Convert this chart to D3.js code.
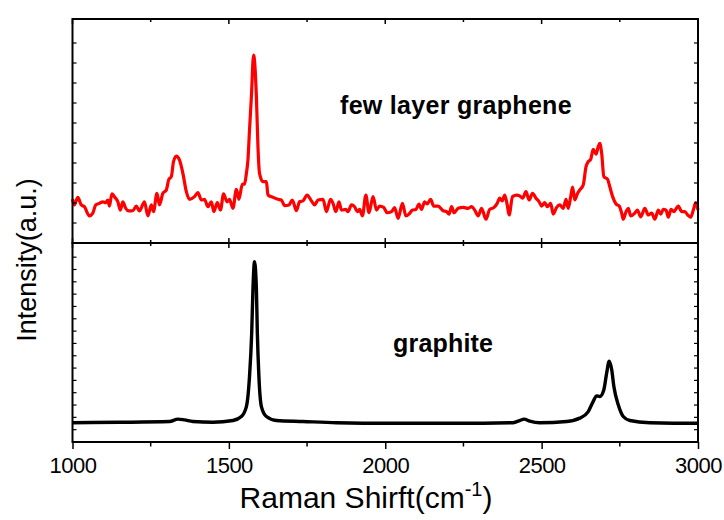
<!DOCTYPE html>
<html>
<head>
<meta charset="utf-8">
<script src="https://cdn.jsdelivr.net/npm/d3@7"></script>
<style>
  body { margin: 0; background: #fff; }
  text { font-family: "Liberation Sans", Arial, sans-serif; }
</style>
</head>
<body>
<script>

// Raman shift (cm-1) and intensity (a.u.)
var grapheneShift = [1000,1006,1017,1028,1038,1054,1065,1074,1086,1097,1106,1113,1118,1126,1134,1145,1153,1161,1170,1180,1193,1204,1214,1230,1241,1252,1259,1270,1278,1289,1300,1308,1316,1323,1332,1342,1353,1364,1374,1390,1401,1412,1422,1433,1444,1452,1463,1473,1483,1494,1502,1513,1524,1532,1543,1550,1556,1561,1566,1572,1579,1588,1593,1598,1609,1620,1625,1641,1657,1668,1678,1692,1703,1716,1726,1737,1750,1764,1774,1785,1801,1812,1825,1833,1842,1852,1860,1874,1881,1892,1902,1911,1918,1927,1938,1948,1961,1972,1982,1995,2006,2020,2030,2041,2055,2066,2076,2087,2098,2108,2116,2126,2134,2145,2155,2169,2185,2196,2204,2212,2220,2233,2249,2265,2276,2286,2297,2308,2322,2334,2347,2358,2366,2374,2382,2390,2396,2407,2420,2430,2439,2450,2460,2471,2482,2492,2500,2510,2518,2529,2537,2548,2558,2569,2578,2585,2593,2599,2606,2614,2622,2633,2642,2649,2657,2665,2674,2681,2686,2692,2699,2711,2718,2727,2738,2748,2756,2761,2770,2777,2785,2798,2806,2817,2830,2841,2852,2862,2873,2881,2889,2898,2905,2914,2923,2937,2948,2958,2967,2977,2985,2993,3000];
var grapheneIntensity = [19.6,17.0,20.4,17.0,16.2,12.1,13.3,17.0,17.7,18.4,18.0,19.2,16.5,21.9,20.7,18.4,14.7,18.4,15.5,14.3,14.4,16.5,14.3,18.4,12.1,17.0,14.0,22.2,17.0,22.2,23.7,28.4,29.6,36.3,38.8,37.1,31.1,22.9,19.5,20.7,22.5,19.2,19.5,16.2,18.4,14.0,18.0,14.7,21.9,18.4,19.5,15.5,24.0,19.5,26.2,26.3,31.1,37.1,50.4,65.3,83.9,65.3,43.0,31.1,27.4,27.4,21.4,20.4,19.5,19.2,16.7,17.0,19.2,14.4,18.4,18.8,21.4,18.8,17.0,19.2,19.5,14.0,19.5,17.7,14.0,18.4,14.7,15.0,14.0,17.0,16.2,14.0,15.0,12.1,21.4,13.5,20.7,14.7,16.5,15.9,13.5,14.0,15.8,11.0,17.7,12.1,12.9,14.7,15.0,17.4,15.0,18.4,17.4,19.5,16.5,16.5,14.4,14.0,12.9,16.2,13.5,15.5,15.9,15.5,16.2,14.7,12.1,15.5,10.6,15.0,15.8,17.7,20.0,18.8,21.4,17.0,12.5,20.7,21.4,21.0,20.0,22.9,19.2,22.2,20.0,18.4,16.5,18.0,16.2,17.7,12.9,15.9,17.0,15.5,19.5,15.5,20.7,24.9,19.2,21.9,23.7,25.9,34.1,36.3,37.4,41.8,39.7,43.0,44.5,40.0,29.6,28.4,25.1,20.7,17.4,16.5,13.3,10.6,14.0,15.5,12.1,13.3,14.7,11.7,15.5,12.5,13.3,10.6,14.7,12.9,15.0,14.7,11.5,15.0,14.0,16.5,14.0,14.0,12.5,11.5,14.7,18.0,14.7];

var graphiteShift = [1000,1150,1310,1337,1358,1385,1449,1513,1540,1556,1566,1573,1577,1582,1588,1591,1596,1604,1620,1652,1737,1844,2014,2228,2409,2430,2444,2462,2494,2580,2622,2649,2665,2676,2686,2699,2708,2716,2724,2731,2745,2761,2782,2846,2996,3000];
var graphiteIntensity = [9.7,9.9,10.3,11.5,11.1,10.3,9.9,10.8,12.8,17.8,33.0,54.9,76.8,90.6,76.8,54.9,33.0,17.8,12.8,10.8,10.3,9.7,9.4,9.4,9.7,10.8,11.5,10.5,9.7,10.3,12.0,15.3,20.4,23.2,22.9,26.3,34.7,40.6,36.4,27.9,18.7,12.8,10.8,9.7,9.4,9.4];

var xMajor = [1000, 1500, 2000, 2500, 3000];
var xMinor = [1250, 1750, 2250, 2750];

var W = 724, H = 520;
var left = 72.5, right = 698;
var topPanel = {y0: 19, y1: 243};
var botPanel = {y0: 243, y1: 442};

var svg = d3.select("body").append("svg").attr("width", W).attr("height", H);

var x = d3.scaleLinear().domain([1000, 3000]).range([left, right]);
var yTop = d3.scaleLinear().domain([0, 100]).range([topPanel.y1, topPanel.y0]);
var yBot = d3.scaleLinear().domain([0, 100]).range([botPanel.y1, botPanel.y0]);

function pts(xs, ys) { return xs.map(function(d, i){ return [d, ys[i]]; }); }

// curves
function drawCurve(data, y, color, w) {
  svg.append("path")
    .datum(data)
    .attr("fill", "none")
    .attr("stroke", color)
    .attr("stroke-width", w)
    .attr("stroke-linejoin", "round")
    .attr("d", d3.line().x(d => x(d[0])).y(d => y(d[1])).curve(d3.curveMonotoneX));
}
drawCurve(pts(grapheneShift, grapheneIntensity), yTop, "#ff0000", 3.2);
drawCurve(pts(graphiteShift, graphiteIntensity), yBot, "#000", 3.4);

// y ticks (no labels), inside on both sides
var topStep = 100 / 11.2, botStep = 100 / 16.15;
function yTicks(y, step, n) {
  var g = svg.append("g").attr("stroke", "#000").attr("stroke-width", 1.2);
  d3.range(1, n).forEach(function(k){
    var yy = y(k * step);
    g.append("line").attr("x1", left).attr("x2", left + 4).attr("y1", yy).attr("y2", yy);
    g.append("line").attr("x1", right - 4).attr("x2", right).attr("y1", yy).attr("y2", yy);
  });
}
yTicks(yTop, topStep, 11);
yTicks(yBot, botStep, 16);

// x ticks on the inner borders
var tg = svg.append("g").attr("stroke", "#000").attr("stroke-width", 1.5);
[topPanel.y0, topPanel.y1, botPanel.y0].forEach(function(yy, i){
  var dir = (i == 1) ? -1 : 1;
  xMajor.concat(xMinor).forEach(function(v){
    var len = xMajor.indexOf(v) >= 0 ? 5 : 3;
    tg.append("line").attr("x1", x(v)).attr("x2", x(v)).attr("y1", yy).attr("y2", yy + dir * len);
  });
});

// bottom axis
var axis = d3.axisBottom(x).tickValues(xMajor).tickSize(7).tickPadding(8).tickFormat(d3.format("d"));
var ax = svg.append("g").attr("transform", "translate(0," + botPanel.y1 + ")").call(axis);
ax.select(".domain").remove();
ax.selectAll(".tick line").attr("stroke-width", 1.5);
ax.selectAll(".tick text").attr("font-size", 22).attr("fill", "#000").attr("letter-spacing", -0.5)
  .style("font-family", "'Liberation Sans', Arial, sans-serif");
ax.selectAll(".minor").data(xMinor).enter().append("line")
  .attr("x1", d => x(d)).attr("x2", d => x(d)).attr("y1", 0).attr("y2", 4.5)
  .attr("stroke", "#000").attr("stroke-width", 1.5);

// frames
[topPanel, botPanel].forEach(function(p){
  svg.append("rect").attr("x", left).attr("y", p.y0).attr("width", right - left).attr("height", p.y1 - p.y0)
    .attr("fill", "none").attr("stroke", "#000").attr("stroke-width", 2);
});

// labels
svg.append("text").attr("x", 340).attr("y", 114).attr("font-size", 25).attr("font-weight", "bold")
  .attr("letter-spacing", 0.3).text("few layer graphene");
svg.append("text").attr("x", 393).attr("y", 352).attr("font-size", 25).attr("font-weight", "bold")
  .attr("letter-spacing", 0.2).text("graphite");

var xl = svg.append("text").attr("x", 366).attr("y", 508).attr("font-size", 30).attr("text-anchor", "middle");
xl.append("tspan").text("Raman Shirft(cm");
xl.append("tspan").attr("font-size", 20).attr("dy", -12).text("-1");
xl.append("tspan").attr("dy", 12).text(")");

svg.append("text").attr("transform", "translate(36,260) rotate(-90)").attr("font-size", 27)
  .attr("text-anchor", "middle").text("Intensity(a.u.)");

</script>
</body>
</html>
